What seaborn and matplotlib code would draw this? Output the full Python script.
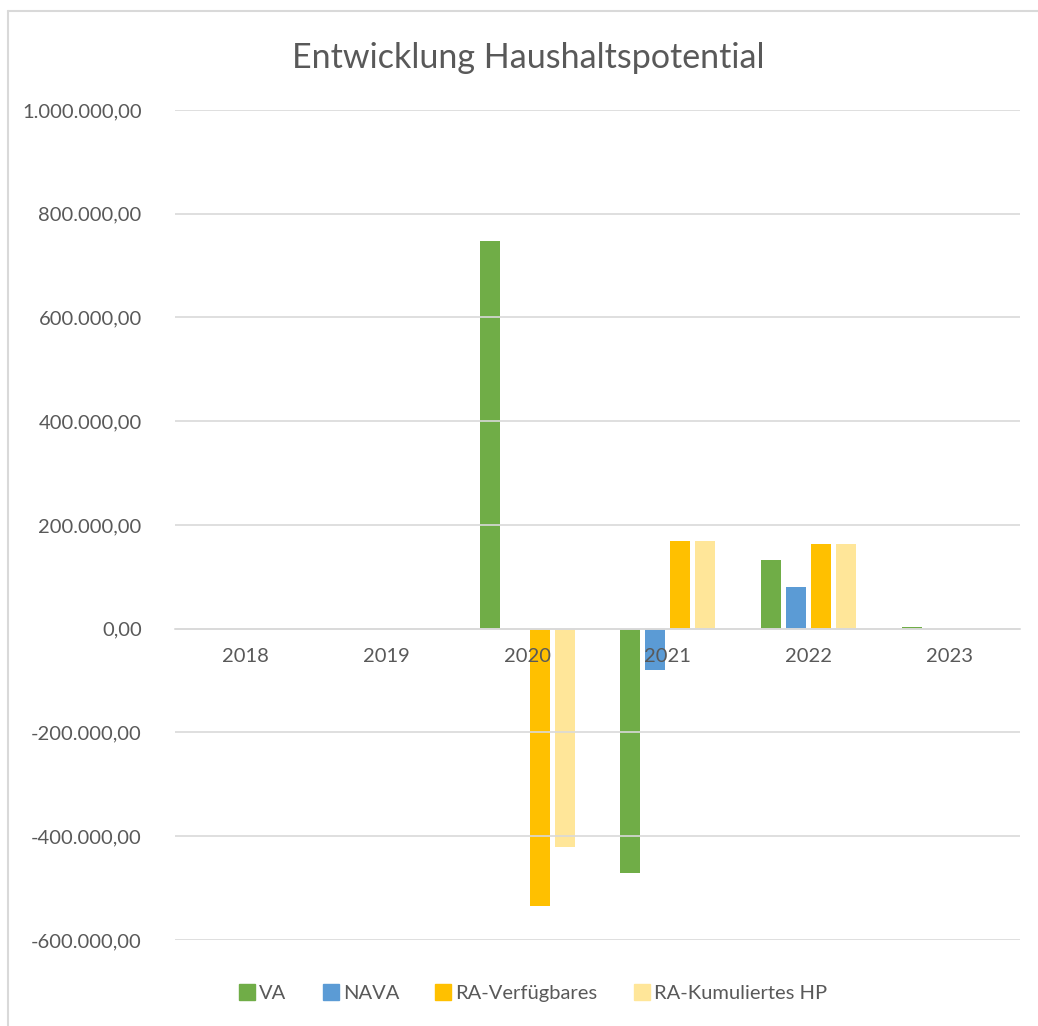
import pandas as pd
import matplotlib
matplotlib.use("Agg")
import matplotlib.pyplot as plt
import seaborn as sns
from matplotlib.lines import Line2D
from matplotlib.ticker import FuncFormatter

jahre = ["2018", "2019", "2020", "2021", "2022", "2023"]
va = [0, 0, 748000, -470000, 132000, 4000]
nava = [0, 0, 0, -80000, 81000, 0]
ra_verf = [0, 0, -535000, 170000, 164000, 0]
ra_kum = [0, 0, -420000, 170000, 163000, 0]
serien = ["VA", "NAVA", "RA-Verfügbares", "RA-Kumuliertes HP"]
farben = ["#70AD47", "#5B9BD5", "#FFC000", "#FFE699"]

df = pd.DataFrame({"Jahr": jahre * 4,
                   "Serie": [s for s in serien for _ in jahre],
                   "Wert": va + nava + ra_verf + ra_kum})

sns.set_style("white")
plt.rcParams['font.family'] = ['Lato', 'DejaVu Sans']
grau = "#595959"

fig = plt.figure(figsize=(10.38, 10.26), dpi=100)
ax = fig.add_axes([175/1038, 1 - 940/1026, 845/1038, 830/1026])

sns.barplot(data=df, x="Jahr", y="Wert", hue="Serie", palette=farben, saturation=1,
            width=0.71, gap=0.2, ax=ax, legend=False, edgecolor="none")

ax.set_ylim(-600000, 1000000)
ax.set_xlim(-0.5, 5.5)
ax.set_yticks(range(-600000, 1000001, 200000))
ax.yaxis.set_major_formatter(FuncFormatter(
    lambda v, p: f"{v:,.2f}".replace(",", "X").replace(".", ",").replace("X", ".")))
ax.grid(axis="y", color="#D9D9D9", linewidth=1.2)
ax.set_axisbelow(False)
for s in ["top", "right", "left"]:
    ax.spines[s].set_visible(False)
ax.spines["bottom"].set_position(("data", 0))
ax.spines["bottom"].set_color("#D9D9D9")
ax.spines["bottom"].set_linewidth(1.2)
ax.tick_params(axis="both", length=0, labelsize=14.5, colors=grau)
ax.tick_params(axis="x", pad=14)
ax.tick_params(axis="y", pad=24)
ax.set_xlabel("")
ax.set_ylabel("")

fig.text(528/1038, 1 - 58/1026, "Entwicklung Haushaltspotential", ha="center", va="center",
         fontsize=24.5, color=grau)

handles = [Line2D([], [], marker="s", linestyle="none", markersize=11,
                  markerfacecolor=f, markeredgecolor=f) for f in farben]
fig.legend(handles, serien, loc="center", bbox_to_anchor=(532/1038, 1 - 993/1026),
           ncol=4, frameon=False, fontsize=14.5, labelcolor=grau,
           handletextpad=0.1, columnspacing=1.7, handlelength=1.0)

# Rahmen
fig.add_artist(Line2D([8/1038, 8/1038], [0, 1 - 11/1026], color="#D9D9D9", linewidth=1.5))
fig.add_artist(Line2D([8/1038, 1], [1 - 11/1026, 1 - 11/1026], color="#D9D9D9", linewidth=1.5))

fig.savefig("out.png", dpi=100)
